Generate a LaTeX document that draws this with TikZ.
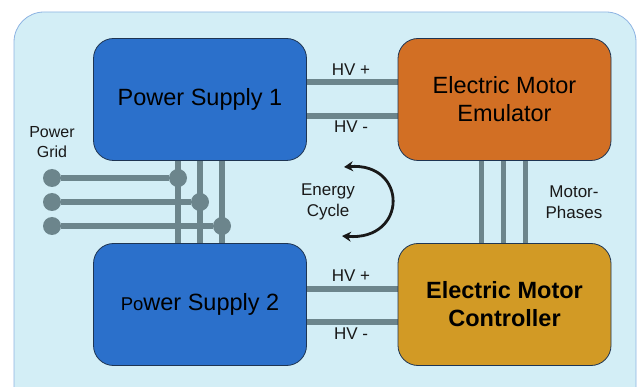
\documentclass[tikz,border=0pt]{standalone}
\usepackage{fontspec}
\setmainfont{Liberation Sans}
\usepackage{xcolor}
\usetikzlibrary{arrows.meta, positioning}

\definecolor{bgblue}{HTML}{D3EEF6}
\definecolor{bgline}{HTML}{8DB3E2}
\definecolor{psblue}{HTML}{2B70CB}
\definecolor{emuorange}{HTML}{D26F24}
\definecolor{ctrlgold}{HTML}{D29A25}
\definecolor{wire}{HTML}{6C858C}
\definecolor{boxline}{HTML}{1E3553}

\pgfdeclarelayer{back}
\pgfdeclarelayer{wires}
\pgfsetlayers{back,wires,main}

\begin{document}
\begin{tikzpicture}[
        x=1pt, y=-1pt,
        box/.style={draw=boxline, line width=0.8pt, rectangle, rounded corners=20pt, align=center, minimum width=213pt, minimum height=122pt, font=\fontsize{23.5}{28}\selectfont},
        lbl/.style={align=center, font=\fontsize{17}{21}\selectfont, text=black!90},
        wire/.style={draw=wire, line width=5.5pt},
        dot/.style={circle, fill=wire, inner sep=0pt, minimum size=18pt}
    ]
    \useasboundingbox (0,0) rectangle (637,387);
    \begin{pgfonlayer}{back}
    \fill[bgblue, draw=bgline, line width=0.8pt, rounded corners=30pt] (14,12) rectangle (636,420);
    \end{pgfonlayer}

    % Nodes
    \node[box, fill=psblue] (ps1) at (200,99.5) {Power Supply 1};
    \node[box, fill=emuorange] (emu) at (504.5,99.5) {Electric Motor\\Emulator};
    \node[box, fill=psblue] (ps2) at (200,304.5) {{\fontsize{18.5}{20}\selectfont Po}wer Supply 2};
    \node[box, fill=ctrlgold, font=\fontsize{23.5}{28}\selectfont\bfseries] (ctrl) at (504.5,304.5) {Electric Motor\\Controller};

    \node[dot] (g1) at (52,178) {};
    \node[dot] (g2) at (52,202) {};
    \node[dot] (g3) at (52,226) {};
    \node[dot] (j1) at (178,178) {};
    \node[dot] (j2) at (200,202) {};
    \node[dot] (j3) at (222,226) {};

    \node[lbl, font=\fontsize{16}{19.5}\selectfont] (grid) at (52,142) {Power\\Grid};
    \node[lbl] (cycle) at (328,202) {Energy\\Cycle};
    \node[lbl] (phases) at (574,202) {Motor-\\Phases};
    \node[lbl] (hvp1) at (351,70) {HV +};
    \node[lbl] (hvm1) at (351,127) {HV -};
    \node[lbl] (hvp2) at (351,276) {HV +};
    \node[lbl] (hvm2) at (351,334) {HV -};

    % Lines
    \begin{pgfonlayer}{wires}
    \draw[wire] (ps1.south -| j1) -- (ps2.north -| j1);
    \draw[wire] (ps1.south -| j2) -- (ps2.north -| j2);
    \draw[wire] (ps1.south -| j3) -- (ps2.north -| j3);
    \draw[wire] (g1) -- (j1);
    \draw[wire] (g2) -- (j2);
    \draw[wire] (g3) -- (j3);

    \draw[wire] ([yshift=17.5pt]ps1.east) -- ([yshift=17.5pt]emu.west);
    \draw[wire] ([yshift=-16.5pt]ps1.east) -- ([yshift=-16.5pt]emu.west);
    \draw[wire] ([yshift=15.5pt]ps2.east) -- ([yshift=15.5pt]ctrl.west);
    \draw[wire] ([yshift=-17.5pt]ps2.east) -- ([yshift=-17.5pt]ctrl.west);

    \draw[wire] ([xshift=-23pt]emu.south) -- ([xshift=-23pt]ctrl.north);
    \draw[wire] ([xshift=-1pt]emu.south) -- ([xshift=-1pt]ctrl.north);
    \draw[wire] ([xshift=21pt]emu.south) -- ([xshift=21pt]ctrl.north);
    \end{pgfonlayer}

    % Energy cycle
    \coordinate (cyctop) at (344,167);
    \coordinate (cycbot) at (342,236);
    \draw[{Stealth[length=9pt,width=10pt]}-{Stealth[length=9pt,width=10pt]}, line width=2.8pt, black!90]
        (cyctop) .. controls (408,162) and (408,241) .. (cycbot);
\end{tikzpicture}
\end{document}
